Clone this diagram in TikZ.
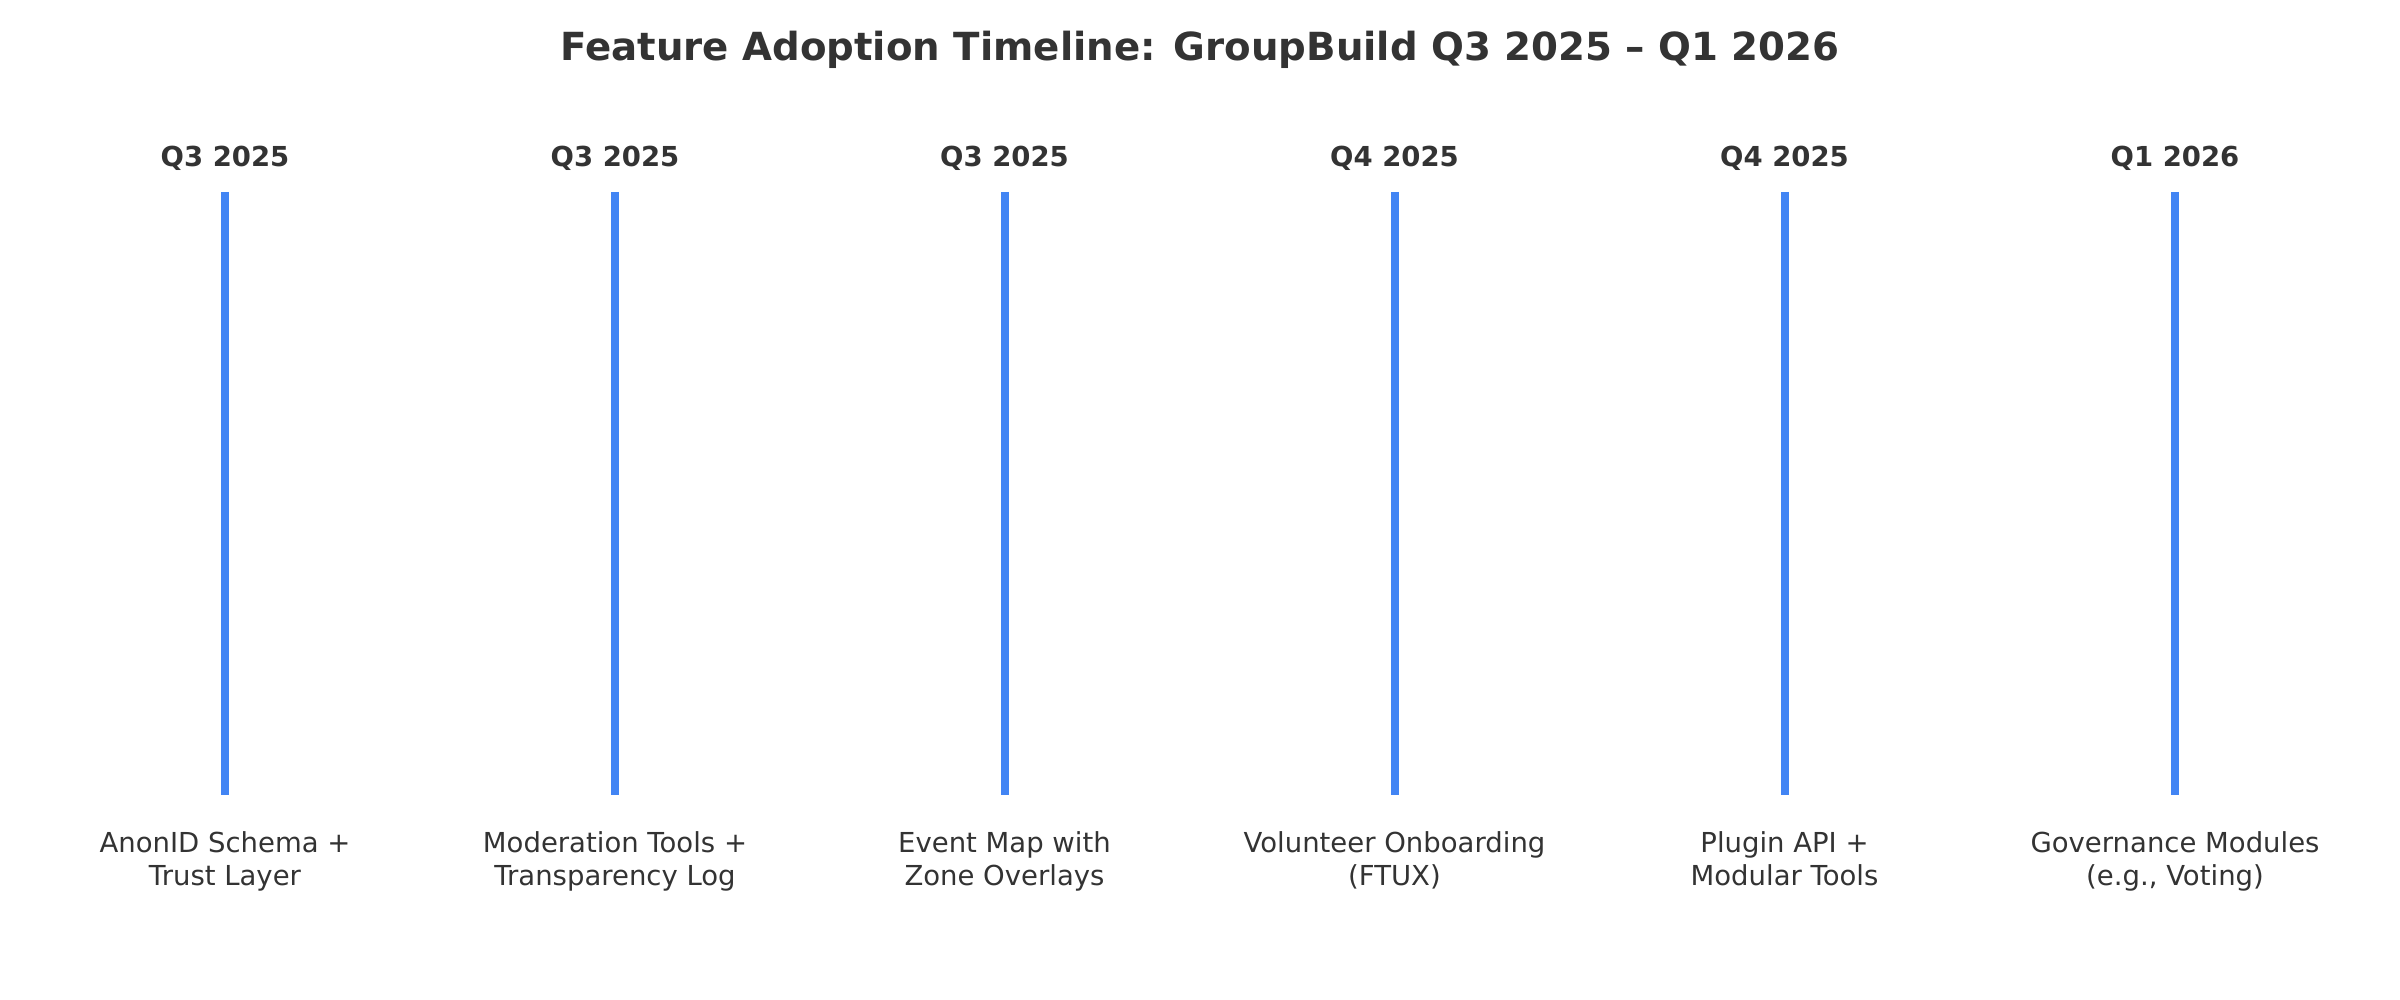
\documentclass[tikz,border=0pt]{standalone}
\usepackage{fontspec}
\setmainfont{DejaVu Sans}
\definecolor{barblue}{HTML}{4285F4}
\definecolor{txt}{HTML}{333333}
\begin{document}
\begin{tikzpicture}[x=1pt,y=-1pt,
  titlestyle/.style={font=\bfseries\fontsize{38.7}{46}\selectfont, text=txt, anchor=base, inner sep=0},
  qlabel/.style={font=\bfseries\fontsize{27.5}{33}\selectfont, text=txt, anchor=base, inner sep=0},
  feat/.style={font=\fontsize{27.5}{33}\selectfont, text=txt, anchor=north, align=center, inner sep=0},
  bar/.style={draw=barblue, line width=8pt}]
\useasboundingbox[fill=white] (0,0) rectangle (2400,1000);
\node[titlestyle] (title) at (1200,61) {Feature Adoption Timeline: GroupBuild Q3 2025 – Q1 2026};
\foreach \i/\x/\q/\f in {
  1/225/Q3 2025/{AnonID Schema +\\Trust Layer},
  2/615/Q3 2025/{Moderation Tools +\\Transparency Log},
  3/1004.5/Q3 2025/{Event Map with\\Zone Overlays},
  4/1394.5/Q4 2025/{Volunteer Onboarding\\(FTUX)},
  5/1784.5/Q4 2025/{Plugin API +\\Modular Tools},
  6/2175/Q1 2026/{Governance Modules\\(e.g., Voting)}} {
  \node[qlabel] (q\i) at (\x,167) {\q};
  \coordinate (t\i) at (\x,192);
  \coordinate (b\i) at (\x,795);
  \draw[bar] (t\i) -- (b\i);
  \node[feat] (f\i) at (\x,831) {\f};
}
\end{tikzpicture}
\end{document}
